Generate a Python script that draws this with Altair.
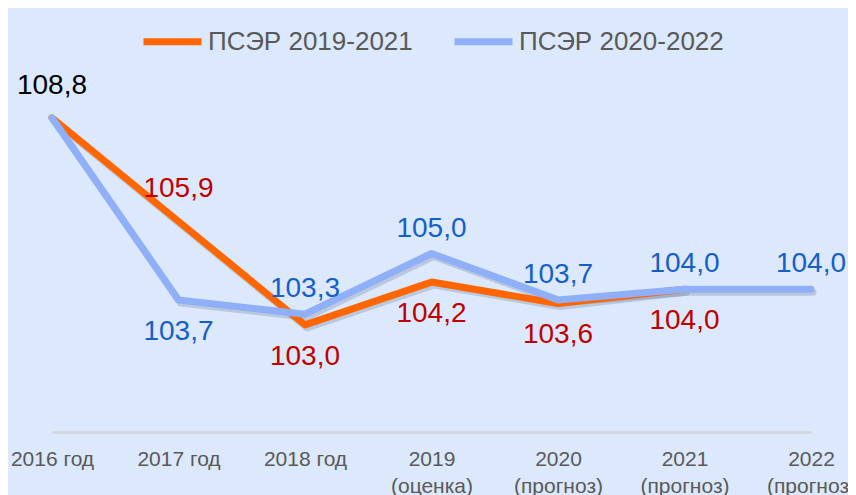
import altair as alt
import pandas as pd

years = ["2016 год", "2017 год", "2018 год", "2019\n(оценка)",
         "2020\n(прогноз)", "2021\n(прогноз)", "2022\n(прогноз)"]
psr_2019_2021 = [108.8, 105.9, 103.0, 104.2, 103.6, 104.0, None]
psr_2020_2022 = [108.8, 103.7, 103.3, 105.0, 103.7, 104.0, 104.0]
series_names = ["ПСЭР 2019-2021", "ПСЭР 2020-2022"]
line_colors = ["#FF6600", "#8FAFF8"]
label_colors = ["#C00000", "#1560C8"]

# long table for lines
rows = []
for name, vals in zip(series_names, [psr_2019_2021, psr_2020_2022]):
    for i, (y, v) in enumerate(zip(years, vals)):
        if v is not None:
            rows.append({"series": name, "year": y, "value": v, "idx": i})
lines_df = pd.DataFrame(rows)

# labels table
lab = []
for i, y in enumerate(years):
    a, b = psr_2019_2021[i], psr_2020_2022[i]
    fmt = lambda v: f"{v:.1f}".replace(".", ",")
    if a is not None and b is not None and a == b and i == 0:
        lab.append({"year": y, "value": a, "text": fmt(a), "color": "#000000", "group": "above_other"})
        continue
    if a is not None:
        side = "above_other" if (b is not None and a > b) else "below"
        lab.append({"year": y, "value": a, "text": fmt(a), "color": label_colors[0], "group": side})
    if b is not None:
        side = "above_blue" if (a is None or b >= a) else "below"
        lab.append({"year": y, "value": b, "text": fmt(b), "color": label_colors[1], "group": side})
labels_df = pd.DataFrame(lab)

x_enc = alt.X("year:N", sort=years,
              scale=alt.Scale(type="point", range=[44, 803], padding=0),
              axis=alt.Axis(title=None, labelExpr="split(datum.label, '\\n')",
                            labelAngle=0, labelFontSize=21, labelColor="#595959",
                            labelFont="Liberation Sans", labelLineHeight=27,
                            labelPadding=16, ticks=False, grid=False,
                            domainColor="#D3D8DF", domainWidth=3, labelBaseline="top"))
y_enc = alt.Y("value:Q", scale=alt.Scale(domain=[100, 110], nice=False, zero=False),
              axis=None)

base = alt.Chart(lines_df)

shadow = base.mark_line(strokeWidth=7, strokeCap="round", strokeJoin="round",
                        color="#44577a", opacity=0.22, yOffset=3, xOffset=2).encode(
    x=x_enc, y=y_enc, detail="series:N", order="idx:Q")

lines = base.mark_line(strokeWidth=7, strokeCap="round", strokeJoin="round").encode(
    x=x_enc, y=y_enc,
    color=alt.Color("series:N", sort=series_names,
                    scale=alt.Scale(domain=series_names, range=line_colors),
                    legend=alt.Legend(title=None, orient="none", direction="horizontal",
                                      legendX=132, legendY=-66,
                                      symbolType="stroke", symbolSize=3364,
                                      symbolStrokeWidth=7, labelFontSize=26,
                                      labelFont="Liberation Sans", labelColor="#595959",
                                      labelOffset=3, columnPadding=27, padding=0,
                                      labelLimit=400)),
    order="idx:Q")

def text_layer(group, dy):
    return alt.Chart(labels_df).transform_filter(
        alt.datum.group == group
    ).mark_text(fontSize=28, font="Liberation Sans", dy=dy, baseline="middle").encode(
        x=alt.X("year:N", sort=years), y="value:Q",
        text="text:N", color=alt.Color("color:N", scale=None))

chart = alt.layer(
    shadow, lines,
    text_layer("above_blue", -25),
    text_layer("above_other", -32),
    text_layer("below", 32),
).properties(
    width=840, height=357,
    padding={"left": 0, "top": 67, "right": 0, "bottom": 70},
    autosize=alt.AutoSizeParams(type="none"),
    background="#DCE8FB",
).configure_view(stroke=None)

chart.save("out.html", embed_options={"renderer": "svg", "actions": False})
